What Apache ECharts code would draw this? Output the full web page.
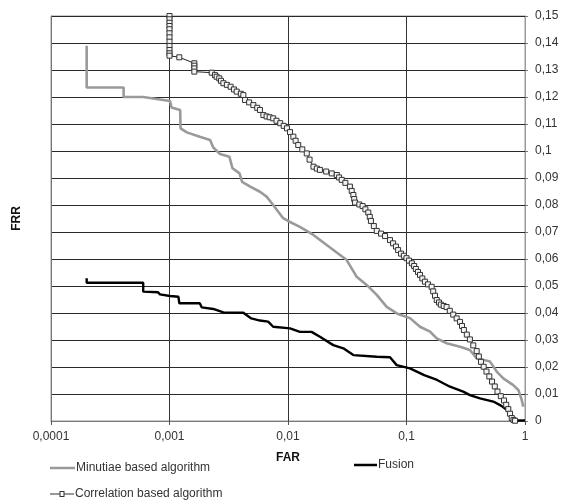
<!DOCTYPE html>
<html>
<head>
<meta charset="utf-8">
<script src="https://cdn.jsdelivr.net/npm/echarts@6/dist/echarts.min.js"></script>
<style>html,body{margin:0;padding:0;background:#fff}#chart{width:563px;height:503px}</style>
</head>
<body>
<div id="chart"></div>
<script>
// ---- data (FAR on log x, FRR on y) ----
const seriesNames = ['Minutiae based algorithm', 'Correlation based algorithm', 'Fusion'];

const minutiaeFAR = [0.0002,0.0002,0.00041,0.00041,0.0006,0.00083,0.00101,0.00104,0.00123,0.00124,0.0014,0.0018,0.0022,0.00234,0.00267,0.0032,0.0034,0.0039,0.0041,0.0048,0.0058,0.0066,0.0075,0.0091,0.0104,0.0126,0.0164,0.0212,0.0275,0.0313,0.038,0.0461,0.0561,0.0681,0.0848,0.107,0.13,0.158,0.18,0.218,0.283,0.343,0.391,0.507,0.577,0.656,0.796,0.879,0.938,0.968];
const minutiaeFRR = [0.139,0.1235,0.1235,0.12,0.12,0.1191,0.1185,0.1161,0.1152,0.1084,0.1069,0.1053,0.1041,0.1013,0.0989,0.0979,0.0936,0.0917,0.0886,0.0868,0.0849,0.0831,0.08,0.0751,0.0737,0.0719,0.0689,0.0652,0.0615,0.0596,0.0534,0.0504,0.0467,0.0423,0.0396,0.0381,0.0349,0.0331,0.0306,0.0288,0.0275,0.0263,0.0232,0.022,0.0183,0.0158,0.0133,0.0115,0.0078,0.0053];

const correlationFAR = [0.001,0.001,0.001,0.001,0.001,0.001,0.001,0.001,0.001,0.001,0.001,0.001,
  0.00121,0.00162,0.00162,0.00162,0.00162,0.00227,0.00242,0.0025,0.00263,0.00272,0.00285,0.00305,0.00328,0.0035,0.00369,0.004,0.0042,0.00434,0.0047,0.0051,0.0055,0.0058,0.0062,0.0066,0.007,0.0075,0.008,0.0086,0.0092,0.0098,
  0.0104,0.0111,0.0116,0.0122,0.0132,0.0144,0.0152,0.0164,0.0175,0.0186,0.021,0.0234,0.0258,0.027,0.0284,0.0305,0.0333,0.0345,0.0356,0.0362,0.0368,0.04,0.0426,0.045,0.0476,0.049,0.0501,0.053,0.0561,0.061,0.0659,0.0726,0.077,0.0815,0.085,0.0899,0.095,
  0.1,0.105,0.111,0.116,0.12,0.125,0.13,0.136,0.143,0.152,0.163,0.168,0.174,0.18,0.188,0.195,0.206,0.218,0.232,0.248,0.265,0.283,0.294,0.305,0.323,0.343,0.366,0.391,0.408,0.425,0.448,0.473,0.5,0.527,0.556,0.586,0.625,0.665,0.694,0.723,0.748,0.773,0.8,0.824];
const correlationFRR = [0.15,0.1488,0.1475,0.1463,0.1451,0.1436,0.1421,0.1405,0.1389,0.1374,0.1362,0.1353,
  0.1347,0.1325,0.1316,0.1306,0.1294,0.129,0.1281,0.1275,0.1269,0.126,0.1251,0.1245,0.1238,0.1228,0.122,0.1212,0.1207,0.1189,0.118,0.117,0.116,0.1152,0.1133,0.1128,0.1125,0.1121,0.1112,0.1103,0.1093,0.1084,
  0.107,0.1053,0.1038,0.1022,0.1006,0.0991,0.0968,0.0942,0.0935,0.093,0.0924,0.0917,0.0911,0.0902,0.0893,0.0882,0.0868,0.0852,0.0837,0.0822,0.0809,0.0802,0.0796,0.0784,0.0772,0.0756,0.0741,0.0722,0.0704,0.0694,0.0685,0.067,0.0658,0.0646,0.0633,0.062,0.0612,
  0.0603,0.0594,0.0584,0.0574,0.0563,0.0552,0.0541,0.0528,0.0516,0.0506,0.0497,0.048,0.0464,0.0448,0.0439,0.0431,0.0426,0.0422,0.0408,0.0394,0.038,0.0367,0.0352,0.0337,0.032,0.0302,0.028,0.0259,0.0239,0.0219,0.0201,0.0183,0.0165,0.0146,0.0128,0.0109,0.0092,0.0076,0.006,0.0044,0.0027,0.0011,0.0004,0.0001];

const fusionFAR = [0.0002,0.0002,0.0006,0.0006,0.0008,0.00083,0.00101,0.00119,0.00121,0.0018,0.00187,0.00234,0.00285,0.0042,0.0049,0.0058,0.0068,0.0075,0.0104,0.0126,0.0158,0.0186,0.0241,0.0293,0.0356,0.0561,0.0726,0.0826,0.107,0.141,0.181,0.233,0.301,0.343,0.417,0.54,0.627,0.705,0.773,0.824,1];
const fusionFRR = [0.0529,0.0512,0.0512,0.0479,0.0477,0.0469,0.0463,0.046,0.0436,0.0436,0.0421,0.0415,0.0402,0.0401,0.038,0.0372,0.0368,0.0349,0.0343,0.033,0.033,0.0312,0.0281,0.0269,0.0244,0.0238,0.0236,0.0207,0.0195,0.017,0.0152,0.0127,0.0109,0.0096,0.0084,0.0072,0.0057,0.0041,0.0016,0.0002,0.0002];

const xTicks = ['0,0001','0,001','0,01','0,1','1'];

const zip = (a, b) => a.map((v, i) => [v, b[i]]);
const fmt = v => String(parseFloat(Number(v).toPrecision(6))).replace('.', ',');
const FONT = "'Liberation Sans', Arial, sans-serif";

const lineIcon = w => 'path://M0,0 H' + w + ' V2.5 H0 Z';
const corrIcon = 'path://M0,2.5 H9.5 V3.5 H0 Z M14.5,2.5 H24 V3.5 H14.5 Z M9.5,0 H14.5 V1 H9.5 Z M9.5,5 H14.5 V6 H9.5 Z M9.5,0 H10.5 V6 H9.5 Z M13.5,0 H14.5 V6 H13.5 Z';
const legText = {fontFamily: FONT, fontSize: 12, color: '#333', padding: [0,0,0,-4]};

const chart = echarts.init(document.getElementById('chart'), null, {renderer: 'canvas'});
chart.setOption({
  animation: false,
  backgroundColor: '#fff',
  grid: {left: 51, right: 38, top: 16, bottom: 82, show: true, borderColor: '#999', borderWidth: 1},
  xAxis: {
    type: 'log', logBase: 10, min: 0.0001, max: 1,
    name: 'FAR', nameLocation: 'middle', nameGap: 31,
    nameTextStyle: {fontFamily: FONT, fontSize: 12, fontWeight: 'bold', color: '#111'},
    axisLine: {show: true, lineStyle: {color: '#777', width: 1}},
    axisTick: {show: true, length: 4, inside: false, lineStyle: {color: '#555'}},
    minorTick: {show: false},
    axisLabel: {fontFamily: FONT, fontSize: 12, color: '#333', margin: 10,
      formatter: v => { const e = Math.round(Math.log10(v)); return xTicks[e + 4]; }},
    splitLine: {show: true, lineStyle: {color: '#333', width: 1}}
  },
  yAxis: [{
    type: 'value', position: 'right', min: 0, max: 0.15, interval: 0.01,
    axisLine: {show: true, lineStyle: {color: '#999', width: 1}},
    axisTick: {show: true, length: 3, lineStyle: {color: '#777'}},
    axisLabel: {fontFamily: FONT, fontSize: 12, color: '#333', margin: 10, formatter: v => fmt(v)},
    splitLine: {show: true, lineStyle: {color: '#2a2a2a', width: 1}}
  }, {
    type: 'value', position: 'left', min: 0, max: 0.15, interval: 0.01,
    name: 'FRR', nameLocation: 'middle', nameGap: 28, nameRotate: 90,
    nameTextStyle: {fontFamily: FONT, fontSize: 12, fontWeight: 'bold', color: '#111'},
    axisLine: {show: true, lineStyle: {color: '#777', width: 1}},
    axisTick: {show: false}, axisLabel: {show: false}, splitLine: {show: false}
  }],
  legend: [
    {data: [{name: seriesNames[0], icon: lineIcon(25), itemStyle: {color: '#9a9a9a', borderWidth: 0}}],
     left: 50, top: 462, padding: 0, itemWidth: 25, itemHeight: 2.5, textStyle: legText},
    {data: [{name: seriesNames[2], icon: lineIcon(23), itemStyle: {color: '#000', borderWidth: 0}}],
     left: 354, top: 459, padding: 0, itemWidth: 23, itemHeight: 2.5, textStyle: legText},
    {data: [{name: seriesNames[1], icon: corrIcon, itemStyle: {color: '#333', borderWidth: 0}}],
     left: 50, top: 488, padding: 0, itemWidth: 24, itemHeight: 6, textStyle: legText}
  ],
  series: [
    {name: seriesNames[0], type: 'line', data: zip(minutiaeFAR, minutiaeFRR), symbol: 'none',
     lineStyle: {color: '#9a9a9a', width: 2.6}, itemStyle: {color: '#9a9a9a'}, z: 2},
    {name: seriesNames[2], type: 'line', data: zip(fusionFAR, fusionFRR), symbol: 'none',
     lineStyle: {color: '#000', width: 2.4}, itemStyle: {color: '#000'}, z: 3},
    {name: seriesNames[1], type: 'line', data: zip(correlationFAR, correlationFRR),
     symbol: 'rect', symbolSize: 5, showSymbol: true,
     lineStyle: {color: '#222', width: 1}, itemStyle: {color: '#f4f4f4', borderColor: '#333', borderWidth: 1}, z: 4}
  ]
});
</script>
</body>
</html>
